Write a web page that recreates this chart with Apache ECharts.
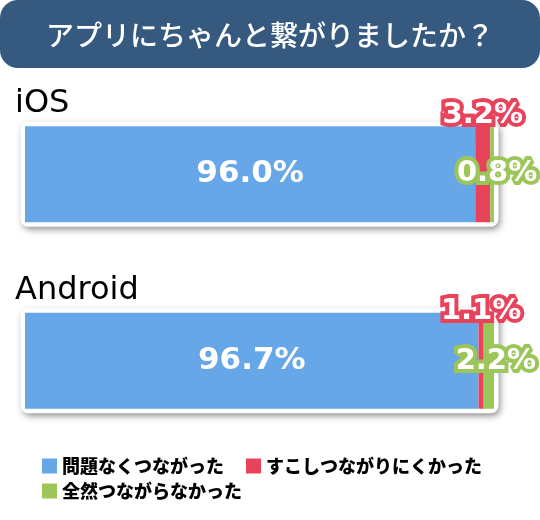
<!DOCTYPE html>
<html><head><meta charset="utf-8">
<script src="https://cdn.jsdelivr.net/npm/echarts@6/dist/echarts.min.js"></script>
<style>html,body{margin:0;padding:0;background:#fff}#c{width:540px;height:520px}</style>
</head><body><div id="c"></div>
<script>
const titleText = 'アプリにちゃんと繋がりましたか？';
const categories = ['iOS', 'Android'];
const seriesNames = ['問題なくつながった', 'すこしつながりにくかった', '全然つながらなかった'];
const okValues = [96.0, 96.7];
const slowValues = [3.2, 1.1];
const failValues = [0.8, 2.2];

const C_BLUE = '#67a7e7', C_RED = '#e9425b', C_GREEN = '#9cc65a', C_TITLE = '#36597f';
const FONT = '"Noto Sans CJK JP", "Noto Sans", sans-serif';
const NUMFONT = '"DejaVu Sans", sans-serif';

// per-category label placement tweaks (style only)
const redDist = [-4, -13];
const greenOff = [[5, -1], [7, 1]];

const fmt = p => p.value.toFixed(1) + '%';
const outLabel = (col) => ({
  show: true, formatter: fmt, color: '#fff', fontFamily: NUMFONT, fontWeight: 'bold',
  fontSize: 29, textBorderColor: col, textBorderWidth: 8
});
const legendText = {color: '#000', fontSize: 18, fontWeight: 900, fontFamily: FONT};

const chart = echarts.init(document.getElementById('c'), null, {renderer: 'canvas'});
chart.setOption({
  animation: false,
  backgroundColor: '#fff',
  graphic: [{
    type: 'rect', z: 0, shape: {x: 0, y: 0, width: 540, height: 68, r: 18},
    style: {fill: C_TITLE}
  }],
  title: {
    text: titleText, left: 'center', top: 16, z: 10,
    textStyle: {color: '#fff', fontSize: 28, fontWeight: 500, fontFamily: FONT}
  },
  legend: [{
    data: seriesNames.slice(0, 2), left: 37, top: 452, itemWidth: 15, itemHeight: 15,
    itemGap: 22, icon: 'rect', selectedMode: false, textStyle: legendText
  }, {
    data: seriesNames.slice(2), left: 37, top: 477, itemWidth: 15, itemHeight: 15,
    itemGap: 22, icon: 'rect', selectedMode: false, textStyle: legendText
  }],
  grid: {left: 25, right: 46, top: 81, bottom: 66, outerBoundsMode: 'none'},
  xAxis: {type: 'value', min: 0, max: 100, show: false},
  yAxis: {
    type: 'category', data: categories, inverse: true, z: 20,
    axisLine: {show: false}, axisTick: {show: false}, splitLine: {show: false},
    axisLabel: {
      inside: true, margin: -10, align: 'left', verticalAlign: 'middle',
      formatter: v => '{n|' + v + '}\n{s|}',
      rich: {
        n: {color: '#000', fontSize: 32, fontFamily: NUMFONT, lineHeight: 34, align: 'left'},
        s: {lineHeight: 141, height: 141}
      }
    }
  },
  series: [{
    name: seriesNames[0], type: 'bar', stack: 'all', barWidth: 96, data: okValues,
    itemStyle: {color: C_BLUE},
    showBackground: true,
    backgroundStyle: {
      color: '#fff', borderColor: '#fff', borderWidth: 9, borderRadius: 3,
      shadowBlur: 7, shadowColor: 'rgba(0,0,0,0.35)', shadowOffsetX: 2, shadowOffsetY: 3
    },
    label: {
      show: true, position: 'inside', formatter: fmt, color: '#fff',
      fontFamily: NUMFONT, fontWeight: 'bold', fontSize: 31
    }
  }, {
    name: seriesNames[1], type: 'bar', stack: 'all', barWidth: 96,
    data: slowValues.map((v, i) => ({value: v, label: {distance: redDist[i]}})),
    itemStyle: {color: C_RED},
    label: Object.assign(outLabel(C_RED), {position: 'top'})
  }, {
    name: seriesNames[2], type: 'bar', stack: 'all', barWidth: 96,
    data: failValues.map((v, i) => ({value: v, label: {offset: greenOff[i]}})),
    itemStyle: {color: C_GREEN},
    label: Object.assign(outLabel(C_GREEN), {position: 'inside'})
  }]
});
</script></body></html>
